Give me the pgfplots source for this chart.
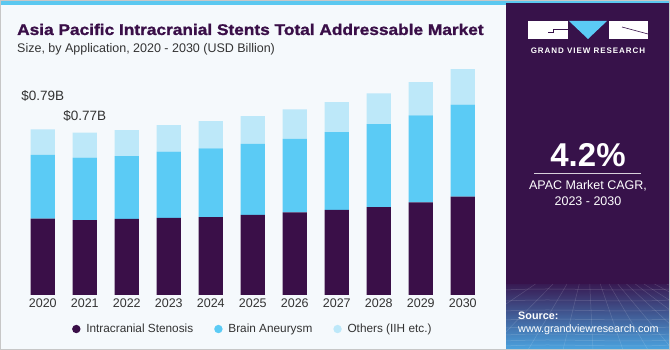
\documentclass[border=0pt]{standalone}
\usepackage{pgfplots}
\pgfplotsset{compat=1.18}
\usepackage{fontspec}
\setmainfont{Liberation Sans}
\newfontfamily\titlefont{Liberation Sans}[BoldFeatures={FakeBold=1.2}]
\definecolor{IS}{HTML}{3A0F48}
\definecolor{BA}{HTML}{5BCBF5}
\definecolor{OT}{HTML}{BDE8F9}
\definecolor{panel}{HTML}{37124A}
\definecolor{bg}{HTML}{F5F9FC}
\definecolor{titlec}{HTML}{3A0F48}
\definecolor{stripe}{HTML}{5BC8F0}
\definecolor{txt}{HTML}{333333}
\begin{document}
\begin{tikzpicture}[x=1pt,y=1pt]
\useasboundingbox (0,0) rectangle (670,350);
\fill[bg] (0,0) rectangle (670,350);
\fill[stripe] (0,345) rectangle (670,350);
\node[anchor=base west,inner sep=0,text=titlec,font=\fontsize{15.5}{18}\selectfont] at (17,315) {\scalebox{1.115}[1]{\titlefont\bfseries Asia Pacific Intracranial Stents Total Addressable Market}};
\node[anchor=base west,inner sep=0,text=txt,font=\fontsize{12.5}{15}\selectfont] at (17,297) {Size, by Application, 2020 - 2030 (USD Billion)};
\begin{axis}[
  at={(21.8pt,55pt)}, anchor=south west,
  scale only axis, width=462pt, height=252pt,
  ybar stacked, bar width=24.3pt,
  xmin=-0.5, xmax=10.5, ymin=0, ymax=1.2,
  axis line style={draw=none},
  ytick=\empty,
  xtick={0,...,10},
  xticklabels={2020,2021,2022,2023,2024,2025,2026,2027,2028,2029,2030},
  major tick length=0pt,
  x tick label style={font=\fontsize{12.5}{14}\selectfont, text=txt},
  /pgf/number format/assume math mode=true,
  clip=false,
  legend columns=3,
  legend style={at={(0.5,-0.135)}, anchor=center, draw=none, fill=none,
    font=\fontsize{11.8}{14}\selectfont, text=txt,
    /tikz/every even column/.append style={column sep=19pt}},
  legend cell align=left,
  legend image code/.code={\fill[#1] (0pt,0pt) circle (4.2pt); \path (8pt,0pt);},
]
\addplot[fill=IS, draw=none] coordinates {(0,0.364) (1,0.356) (2,0.362) (3,0.367) (4,0.371) (5,0.382) (6,0.394) (7,0.405) (8,0.419) (9,0.441) (10,0.468)};
\addplot[fill=BA, draw=none] coordinates {(0,0.303) (1,0.298) (2,0.299) (3,0.316) (4,0.327) (5,0.338) (6,0.350) (7,0.371) (8,0.395) (9,0.414) (10,0.438)};
\addplot[fill=OT, draw=none] coordinates {(0,0.122) (1,0.119) (2,0.124) (3,0.126) (4,0.130) (5,0.132) (6,0.140) (7,0.143) (8,0.146) (9,0.159) (10,0.169)};
\legend{Intracranial Stenosis, Brain Aneurysm, Others (IIH etc.)}
\node[font=\fontsize{13.5}{15}\selectfont, text=txt] at (axis cs:0,0.948) {\$0.79B};
\node[font=\fontsize{13.5}{15}\selectfont, text=txt] at (axis cs:1,0.852) {\$0.77B};
\end{axis}
% right panel
\fill[panel] (506,0) rectangle (670,347);
\shade[top color=panel, bottom color={rgb,255:red,75;green,165;blue,225}] (506,0) rectangle (670,70);
\fill[panel] (506,66) rectangle (670,80);
\begin{scope}
\clip (506,0) rectangle (670,66);
\foreach \yy in {4,9,15,22,30,39,49,60} {\draw[white,opacity=0.18,line width=0.5pt] (506,\yy) .. controls (560,\yy+3) and (620,\yy-2) .. (670,\yy+1);}
\foreach \xx in {-150,-100,-60,-25,5,35,60,85,110,135,160,190,225,270,330} {\draw[white,opacity=0.15,line width=0.5pt] (588+\xx,0) -- (588+\xx*0.35,66);}
\end{scope}
% logo
\fill[white] (528,311) rectangle (568,329);
\draw[panel,line width=0.6pt] (548,318) -- (553,318) -- (553,321) -- (568,321);
\fill[BA] (569,329) -- (607,329) -- (588,311) -- cycle;
\fill[white] (609,311) rectangle (648,329);
\draw[panel,line width=0.6pt] (622,323) -- (648,316);
\node[text=white,font=\fontsize{8}{10}\selectfont\bfseries,inner sep=0] at (588,299) {\addfontfeature{LetterSpace=12}GRAND VIEW RESEARCH};
\node[text=white,font=\fontsize{33}{36}\selectfont\bfseries,inner sep=0] at (588,195) {4.2\%};
\draw[white!80!panel,line width=0.8pt] (534,177) -- (641,177);
\node[text=white,font=\fontsize{12.5}{14}\selectfont,inner sep=0] at (588,164) {APAC Market CAGR,};
\node[text=white,font=\fontsize{12.5}{14}\selectfont,inner sep=0] at (588,149) {2023 - 2030};
\node[anchor=west,text=white,font=\fontsize{10.8}{13}\selectfont\bfseries,inner sep=0] at (518,34) {Source:};
\node[anchor=west,text=white,font=\fontsize{10.8}{13}\selectfont,inner sep=0] at (518,20) {www.grandviewresearch.com};
\draw[black!22,line width=1pt] (0.5,0.5) rectangle (669.5,349.5);
\end{tikzpicture}
\end{document}
